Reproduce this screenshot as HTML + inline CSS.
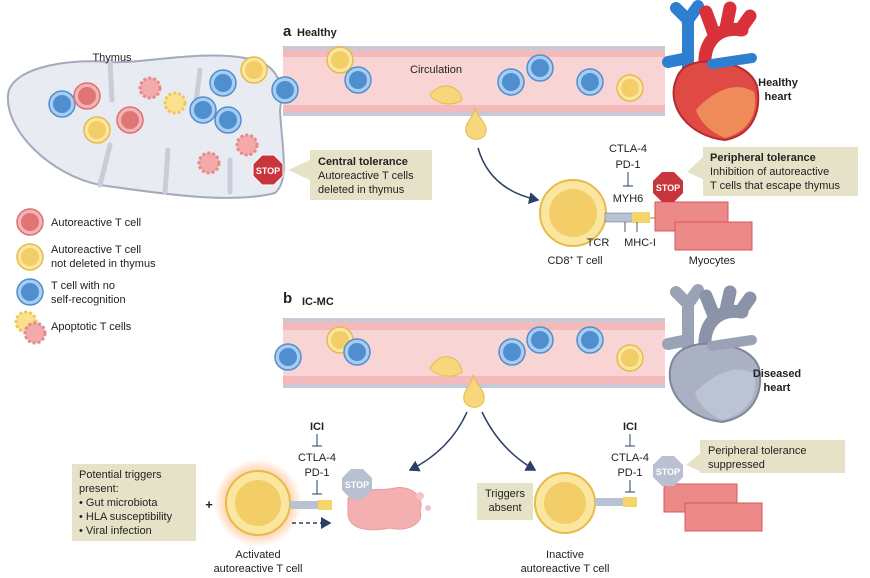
<!DOCTYPE html>
<html><head><meta charset="utf-8"><style>
body{margin:0;background:#fff}
svg{display:block}
text{font-family:"Liberation Sans",sans-serif;fill:#222}
</style></head><body>
<svg width="870" height="578" viewBox="0 0 870 578" xmlns="http://www.w3.org/2000/svg">
<defs>
<g id="bc"><circle r="13" fill="#a9cdf0" stroke="#4f8fd0" stroke-width="1.5"/><circle r="9" fill="#4f8fd0"/></g>
<g id="rc"><circle r="13" fill="#f2b4b4" stroke="#dd7070" stroke-width="1.5"/><circle r="9" fill="#e07575"/></g>
<g id="yc"><circle r="13" fill="#fbe6a0" stroke="#e6bb4a" stroke-width="1.5"/><circle r="9" fill="#f2cd68"/></g>
<g id="ap"><circle r="10" fill="#f4a9aa" stroke="#e48b8d" stroke-width="3" stroke-dasharray="3 2"/></g>
<g id="apy"><circle r="10" fill="#fbe08e" stroke="#efc760" stroke-width="3" stroke-dasharray="3 2"/></g>
<radialGradient id="glow"><stop offset="0.6" stop-color="#ffb070" stop-opacity="0.8"/><stop offset="1" stop-color="#ffb070" stop-opacity="0"/></radialGradient>
<marker id="ar" markerWidth="8" markerHeight="8" refX="6" refY="4" orient="auto"><path d="M0,0 L7,4 L0,8 Z" fill="#2b3f66"/></marker>
</defs>

<!-- Thymus -->
<path d="M8,95 C10,70 60,58 110,62 L110,62 C140,64 200,50 245,58 C275,62 285,80 280,110 C282,150 290,180 275,193 C230,205 150,192 100,185 C50,175 5,130 8,95 Z" fill="#e8ebf2" stroke="#a3aabb" stroke-width="2"/>
<path d="M110,62 L112,100 M100,185 L110,145 M165,192 L168,150 M200,70 L195,110 M230,192 L230,160" stroke="#c8cdd9" stroke-width="5" fill="none" stroke-linecap="round"/>
<text x="112" y="61" font-size="11" text-anchor="middle">Thymus</text>
<use href="#bc" x="62" y="104"/><use href="#rc" x="87" y="96"/><use href="#yc" x="97" y="130"/><use href="#rc" x="130" y="120"/>
<use href="#ap" x="150" y="88"/><use href="#apy" x="175" y="103"/><use href="#bc" x="203" y="110"/><use href="#bc" x="223" y="83"/>
<use href="#bc" x="228" y="120"/><use href="#ap" x="247" y="145"/><use href="#ap" x="209" y="163"/><use href="#yc" x="254" y="70"/>
<polygon points="262,155 274,155 283,164 283,176 274,185 262,185 253,176 253,164" fill="#c9353d" stroke="#fff" stroke-width="1"/>
<text x="268" y="174" font-size="9" font-weight="bold" text-anchor="middle" style="fill:#fff">STOP</text>
<polygon points="288,170 310,160 310,180" fill="#e6e2c8"/>
<rect x="310" y="150" width="122" height="50" fill="#e6e2c8"/>
<text x="318" y="165" font-size="11" font-weight="bold">Central tolerance</text>
<text x="318" y="179" font-size="11">Autoreactive T cells</text>
<text x="318" y="193" font-size="11">deleted in thymus</text>

<!-- Legend -->
<use href="#rc" x="30" y="222"/><text x="51" y="226" font-size="11">Autoreactive T cell</text>
<use href="#yc" x="30" y="257"/><text x="51" y="253" font-size="11">Autoreactive T cell</text><text x="51" y="267" font-size="11">not deleted in thymus</text>
<use href="#bc" x="30" y="292"/><text x="51" y="289" font-size="11">T cell with no</text><text x="51" y="303" font-size="11">self-recognition</text>
<use href="#apy" x="26" y="322"/><use href="#ap" x="35" y="333"/><text x="51" y="330" font-size="11">Apoptotic T cells</text>

<!-- Vessel a -->
<text x="283" y="36" font-size="15" font-weight="bold">a</text><text x="297" y="36" font-size="11" font-weight="bold">Healthy</text>
<rect x="283" y="46" width="382" height="70" fill="#c5cad6"/>
<rect x="283" y="50" width="382" height="62" fill="#f4b9bb"/>
<rect x="283" y="57" width="382" height="48" fill="#f8d4d5"/>
<text x="410" y="73" font-size="11">Circulation</text>
<use href="#yc" x="340" y="60"/><use href="#bc" x="358" y="80"/><use href="#bc" x="285" y="90"/><use href="#bc" x="511" y="82"/><use href="#bc" x="540" y="68"/><use href="#bc" x="590" y="82"/><use href="#yc" x="630" y="88"/>
<path d="M430,95 C440,80 460,85 462,100 C455,106 438,106 430,95 Z" fill="#f6d77c" stroke="#e6bb4a"/>
<path d="M475,108 C478,118 490,125 485,135 C480,142 468,140 466,132 C464,122 474,118 475,108 Z" fill="#f6d77c" stroke="#e6bb4a"/>
<path d="M478,148 Q490,190 538,200" stroke="#2b3f66" stroke-width="1.5" fill="none" marker-end="url(#ar)"/>

<!-- Heart healthy -->
<g stroke-linecap="round" fill="none">
<path d="M688,72 L688,18 M688,20 L676,8 M688,20 L698,6 M688,58 L668,62" stroke="#2f7fd0" stroke-width="12"/>
<path d="M706,75 C700,42 718,26 742,30 M714,34 L706,12 M726,28 L730,8 M740,30 L750,16" stroke="#d8313a" stroke-width="13"/>
</g>
<path d="M676,80 C666,106 688,136 725,140 C752,135 762,112 757,86 C750,66 725,60 700,62 C686,64 679,70 676,80 Z" fill="#e04a45" stroke="#b82a2e" stroke-width="2"/>
<path d="M712,64 L752,58" stroke="#2f7fd0" stroke-width="10" stroke-linecap="round"/>
<path d="M696,110 C712,92 735,80 754,92 C759,114 748,132 725,138 C710,132 700,122 696,110 Z" fill="#f4a060" opacity="0.75"/>
<text x="778" y="86" font-size="11" font-weight="bold" text-anchor="middle">Healthy</text><text x="778" y="100" font-size="11" font-weight="bold" text-anchor="middle">heart</text>

<!-- CD8 -->
<circle cx="573" cy="213" r="33" fill="#fbe6a0" stroke="#e6bb4a" stroke-width="2"/><circle cx="573" cy="213" r="24" fill="#f2cd68"/>
<rect x="605" y="213" width="40" height="9" fill="#b8c2d4" stroke="#667" stroke-width="0.5"/><rect x="632" y="212" width="18" height="11" fill="#f5d56a"/>
<line x1="650" y1="218" x2="662" y2="218" stroke="#9a8a40"/>
<text x="628" y="152" font-size="11" text-anchor="middle">CTLA-4</text><text x="628" y="168" font-size="11" text-anchor="middle">PD-1</text>
<line x1="628" y1="172" x2="628" y2="186" stroke="#2b3f66"/><line x1="623" y1="186" x2="633" y2="186" stroke="#2b3f66"/>
<text x="628" y="202" font-size="11" text-anchor="middle">MYH6</text>
<line x1="625" y1="222" x2="625" y2="232" stroke="#556"/><line x1="637" y1="222" x2="637" y2="232" stroke="#556"/>
<text x="598" y="246" font-size="11" text-anchor="middle">TCR</text><text x="640" y="246" font-size="11" text-anchor="middle">MHC-I</text>
<text x="575" y="264" font-size="11" text-anchor="middle">CD8<tspan font-size="7" dy="-4">+</tspan><tspan dy="4"> T cell</tspan></text>
<rect x="655" y="202" width="73" height="29" fill="#ec8a8a" stroke="#d85858"/>
<rect x="675" y="222" width="77" height="28" fill="#ec8a8a" stroke="#d85858"/>
<text x="712" y="264" font-size="11" text-anchor="middle">Myocytes</text>
<polygon points="662,172 674,172 683,181 683,193 674,202 662,202 653,193 653,181" fill="#c9353d"/>
<text x="668" y="191" font-size="9" font-weight="bold" text-anchor="middle" style="fill:#fff">STOP</text>
<polygon points="687,172 705,155 705,180" fill="#e6e2c8"/>
<rect x="703" y="147" width="155" height="49" fill="#e6e2c8"/>
<text x="710" y="161" font-size="11" font-weight="bold">Peripheral tolerance</text>
<text x="710" y="175" font-size="11">Inhibition of autoreactive</text>
<text x="710" y="189" font-size="11">T cells that escape thymus</text>

<!-- Vessel b -->
<text x="283" y="303" font-size="15" font-weight="bold">b</text><text x="302" y="305" font-size="11" font-weight="bold">IC-MC</text>
<rect x="283" y="318" width="382" height="70" fill="#c5cad6"/>
<rect x="283" y="322" width="382" height="62" fill="#f4b9bb"/>
<rect x="283" y="330" width="382" height="46" fill="#f8d4d5"/>
<use href="#bc" x="288" y="357"/><use href="#yc" x="340" y="340"/><use href="#bc" x="357" y="352"/><use href="#bc" x="512" y="352"/><use href="#bc" x="540" y="340"/><use href="#bc" x="590" y="340"/><use href="#yc" x="630" y="358"/>
<path d="M430,368 C440,350 460,355 462,372 C455,378 438,378 430,368 Z" fill="#f6d77c" stroke="#e6bb4a"/>
<path d="M473,375 C476,385 488,392 483,403 C478,410 466,408 464,400 C462,390 472,386 473,375 Z" fill="#f6d77c" stroke="#e6bb4a"/>
<path d="M467,412 Q450,450 410,470" stroke="#2b3f66" stroke-width="1.5" fill="none" marker-end="url(#ar)"/>
<path d="M482,412 Q500,450 535,470" stroke="#2b3f66" stroke-width="1.5" fill="none" marker-end="url(#ar)"/>

<!-- Gray heart -->
<g stroke-linecap="round" fill="none">
<path d="M688,352 L688,302 M688,304 L676,292 M688,304 L698,290 M688,340 L668,344" stroke="#9aa3b6" stroke-width="12"/>
<path d="M706,356 C700,324 718,308 742,312 M714,316 L706,296 M726,310 L730,292 M740,312 L750,298" stroke="#8a93a8" stroke-width="13"/>
</g>
<path d="M672,362 C662,390 686,418 722,422 C752,417 764,394 759,368 C752,348 725,342 700,344 C686,346 676,352 672,362 Z" fill="#aab1c2" stroke="#7d869a" stroke-width="2"/>
<path d="M712,346 L752,340" stroke="#9aa3b6" stroke-width="10" stroke-linecap="round"/>
<path d="M695,392 C712,376 735,362 754,374 C759,394 748,414 722,420 C708,414 698,404 695,392 Z" fill="#bcc3d3"/>
<text x="777" y="377" font-size="11" font-weight="bold" text-anchor="middle">Diseased</text><text x="777" y="391" font-size="11" font-weight="bold" text-anchor="middle">heart</text>

<!-- Activated -->
<rect x="72" y="464" width="124" height="77" fill="#e6e2c8"/>
<text x="79" y="478" font-size="11">Potential triggers</text><text x="79" y="492" font-size="11">present:</text>
<text x="79" y="506" font-size="11">• Gut microbiota</text><text x="79" y="520" font-size="11">• HLA susceptibility</text><text x="79" y="534" font-size="11">• Viral infection</text>
<text x="209" y="509" font-size="13" font-weight="bold" text-anchor="middle">+</text>
<circle cx="258" cy="503" r="44" fill="url(#glow)"/>
<circle cx="258" cy="503" r="32" fill="#fbe6a0" stroke="#e6bb4a" stroke-width="2"/><circle cx="258" cy="503" r="23" fill="#f2cd68"/>
<rect x="290" y="501" width="34" height="8" fill="#b8c2d4"/><rect x="318" y="500" width="14" height="10" fill="#f5d56a"/>
<line x1="292" y1="523" x2="330" y2="523" stroke="#2b3f66" stroke-width="1.5" stroke-dasharray="4 3" marker-end="url(#ar)"/>
<text x="317" y="430" font-size="11" font-weight="bold" text-anchor="middle">ICI</text>
<line x1="317" y1="434" x2="317" y2="446" stroke="#2b3f66"/><line x1="312" y1="446" x2="322" y2="446" stroke="#2b3f66"/>
<text x="317" y="461" font-size="11" text-anchor="middle">CTLA-4</text><text x="317" y="476" font-size="11" text-anchor="middle">PD-1</text>
<line x1="317" y1="480" x2="317" y2="494" stroke="#2b3f66"/><line x1="312" y1="494" x2="322" y2="494" stroke="#2b3f66"/>
<path d="M348,498 C360,485 380,492 395,488 C412,485 425,498 420,510 C425,525 405,532 390,528 C370,532 350,530 348,515 Z" fill="#f4b0b0" stroke="#ec9a9a"/>
<circle cx="420" cy="496" r="4" fill="#f6c2c2"/><circle cx="428" cy="508" r="3" fill="#f6c2c2"/>
<polygon points="351,469 363,469 372,478 372,490 363,499 351,499 342,490 342,478" fill="#b9c0d2"/>
<text x="357" y="488" font-size="9" font-weight="bold" text-anchor="middle" style="fill:#fff">STOP</text>
<text x="258" y="558" font-size="11" text-anchor="middle">Activated</text><text x="258" y="572" font-size="11" text-anchor="middle">autoreactive T cell</text>

<!-- Inactive -->
<rect x="477" y="483" width="56" height="37" fill="#e6e2c8"/>
<text x="505" y="497" font-size="11" text-anchor="middle">Triggers</text><text x="505" y="511" font-size="11" text-anchor="middle">absent</text>
<circle cx="565" cy="503" r="30" fill="#fbe6a0" stroke="#e6bb4a" stroke-width="2"/><circle cx="565" cy="503" r="21" fill="#f2cd68"/>
<rect x="595" y="498" width="34" height="8" fill="#b8c2d4"/><rect x="623" y="497" width="14" height="10" fill="#f5d56a"/>
<text x="630" y="430" font-size="11" font-weight="bold" text-anchor="middle">ICI</text>
<line x1="630" y1="434" x2="630" y2="446" stroke="#2b3f66"/><line x1="625" y1="446" x2="635" y2="446" stroke="#2b3f66"/>
<text x="630" y="461" font-size="11" text-anchor="middle">CTLA-4</text><text x="630" y="476" font-size="11" text-anchor="middle">PD-1</text>
<line x1="630" y1="480" x2="630" y2="492" stroke="#2b3f66"/><line x1="625" y1="492" x2="635" y2="492" stroke="#2b3f66"/>
<rect x="664" y="484" width="73" height="28" fill="#ec8a8a" stroke="#d85858"/>
<rect x="685" y="503" width="77" height="28" fill="#ec8a8a" stroke="#d85858"/>
<polygon points="662,456 674,456 683,465 683,477 674,486 662,486 653,477 653,465" fill="#b9c0d2"/>
<text x="668" y="475" font-size="9" font-weight="bold" text-anchor="middle" style="fill:#fff">STOP</text>
<polygon points="686,465 702,452 702,472" fill="#e6e2c8"/>
<rect x="700" y="440" width="145" height="33" fill="#e6e2c8"/>
<text x="708" y="454" font-size="11">Peripheral tolerance</text><text x="708" y="468" font-size="11">suppressed</text>
<text x="565" y="558" font-size="11" text-anchor="middle">Inactive</text><text x="565" y="572" font-size="11" text-anchor="middle">autoreactive T cell</text>
</svg>
</body></html>
